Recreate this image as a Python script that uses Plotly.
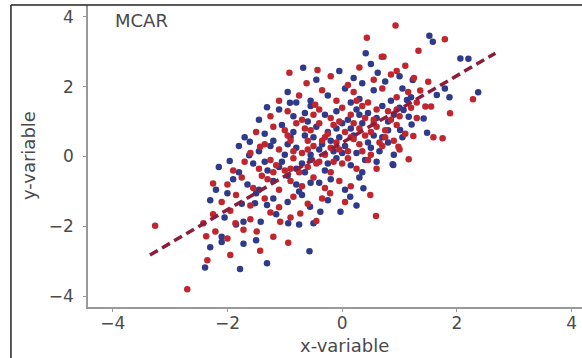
import plotly.graph_objects as go

# ---- data (x-variable, y-variable) ----
red_xy = [
    (0.93, 3.75), (0.43, 3.4), (0.69, 2.86), (-0.92, 2.4), (-0.43, 2.48), (-0.47, 1.48),
    (-1.43, 0.28), (1.79, 3.36), (1.33, 3.03), (2.28, 1.64), (1.88, 1.24), (1.75, 0.52),
    (1.59, 0.55), (1.16, -0.08), (1.5, 2.14), (1.45, 1.43), (1.55, 1.43), (1.36, 1.89),
    (0.95, 2.45), (0.72, 2.86), (1.24, 0.59), (0.98, 0.28), (-2.25, -0.77), (-2.42, -1.91),
    (-2.21, -2.15), (-2.35, -2.97), (-1.95, -2.82), (-1.43, -2.7), (-0.94, -2.47), (-1.72, -2.1),
    (-1.49, -2.15), (-1.86, -1.91), (-1.08, -1.87), (-0.73, -1.63), (0.59, -1.7), (0.49, -1.1),
    (-0.21, -1.05), (-3.26, -1.98), (-2.37, -2.28), (-2.7, -3.8),
    (-0.62, 2.1), (-0.2, 2.3), (0.1, 2.05), (0.3, 2.55), (0.55, 2.2), (0.85, 2.35), (1.1, 2.6), (1.25, 2.25),
    (-1.1, 1.6), (-0.75, 1.75), (-0.35, 1.9), (-0.1, 1.6), (0.2, 1.85), (0.45, 1.55), (0.7, 1.95),
    (0.95, 1.7), (1.15, 1.85), (1.3, 1.55),
    (-1.25, 1.15), (-0.95, 1.3), (-0.7, 1.05), (-0.4, 1.35), (-0.2, 1.1), (0.0, 1.4), (0.15, 1.2),
    (0.35, 1.45), (0.55, 1.05), (0.8, 1.3), (1.0, 1.15), (1.2, 1.4), (0.6, 1.35), (-0.05, 1.0),
    (-1.5, 0.7), (-1.2, 0.85), (-0.95, 0.6), (-0.8, 0.95), (-0.55, 0.75), (-0.3, 0.55), (-0.15, 0.9),
    (0.05, 0.7), (0.2, 0.95), (0.4, 0.6), (0.6, 0.85), (0.75, 0.55), (0.95, 0.9), (1.1, 0.65),
    (0.3, 0.8), (-0.4, 0.95), (0.5, 0.7),
    (-1.6, 0.1), (-1.35, 0.35), (-1.1, 0.2), (-0.9, 0.45), (-0.7, 0.1), (-0.5, 0.3), (-0.3, 0.05),
    (-0.1, 0.4), (0.1, 0.15), (0.3, 0.35), (0.5, 0.05), (0.7, 0.3), (0.9, 0.45), (-0.6, 0.45),
    (0.2, 0.5), (-0.2, 0.25),
    (-1.9, -0.4), (-1.7, -0.15), (-1.45, -0.35), (-1.25, -0.1), (-1.0, -0.4), (-0.85, -0.05),
    (-0.6, -0.3), (-0.4, -0.15), (-0.2, -0.45), (0.0, -0.2), (0.25, -0.35), (0.45, -0.1),
    (-1.15, -0.25), (-0.75, -0.45),
    (-2.0, -0.8), (-1.75, -0.6), (-1.55, -0.9), (-1.3, -0.65), (-1.1, -0.95), (-0.9, -0.7),
    (-0.7, -0.85), (-0.5, -0.6), (-0.3, -0.9), (-0.05, -0.7), (0.15, -0.85), (-1.4, -0.55),
    (-2.1, -1.3), (-1.85, -1.1), (-1.6, -1.4), (-1.35, -1.2), (-1.1, -1.45), (-0.85, -1.15),
    (-0.6, -1.35), (-0.35, -1.2), (0.05, -1.3),
    (-2.25, -1.65), (-1.95, -1.55), (-1.6, -1.8), (-1.25, -1.6), (-0.9, -1.75), (-0.45, -1.85),
    (-2.0, -2.35), (-1.2, -2.3),
    (-0.85, 0.15), (-0.65, 0.8), (-0.45, -0.2), (-0.25, 0.65), (-0.05, 0.2), (0.15, 0.55),
    (0.35, 0.15), (0.55, 0.95), (0.75, 0.75), (0.95, 1.35), (0.4, 1.1), (0.1, -0.05),
    (-0.35, 0.45), (-0.6, 0.2), (-0.9, -0.35), (-1.2, -0.45), (-0.15, -0.15), (0.65, 0.4),
    (0.85, 1.05), (0.25, 1.6), (-0.5, 1.2), (-1.0, 0.75), (1.3, 1.1), (1.0, 0.2), (0.6, -0.35),
]

blue_xy = [
    (0.41, 2.96), (-0.68, 2.54), (-1.31, 1.41), (-0.91, 1.54), (-1.61, 0.42), (-1.62, 0.04),
    (-1.96, -0.13), (0.89, -0.24), (1.52, 3.46), (1.58, 3.29), (2.06, 2.81), (2.2, 2.8),
    (2.37, 1.84), (1.87, 1.7), (1.48, 0.68), (1.42, 1.09), (1.21, 0.92), (0.88, -0.22),
    (1.23, 2.19), (1.79, 1.95), (1.65, 1.76), (1.13, 1.62), (1.07, 1.33), (1.16, 1.14),
    (1.01, 0.76), (-2.39, -3.18), (-1.78, -3.22), (-1.31, -3.06), (-0.57, -2.71), (-2.1, -2.3),
    (-2.1, -2.45), (-1.72, -2.5), (-1.72, -1.87), (-1.42, -1.87), (-1.52, -1.34), (-1.31, -1.39),
    (-0.94, -1.91), (-0.5, -1.91), (-0.56, -1.44), (-0.38, -1.58), (-0.03, -1.58), (0.37, -0.91),
    (0.14, -1.15),
    (-0.45, 2.2), (-0.05, 2.45), (0.2, 2.25), (0.5, 2.65), (0.62, 2.4), (0.75, 2.15), (1.0, 2.3), (0.35, 2.1),
    (-0.95, 1.85), (-0.55, 1.6), (-0.25, 1.75), (0.05, 1.95), (0.3, 1.65), (0.55, 1.9), (0.85, 1.6),
    (1.05, 1.95), (-0.8, 1.55),
    (-1.45, 1.05), (-1.1, 1.35), (-0.85, 1.15), (-0.55, 1.45), (-0.3, 1.2), (-0.1, 1.3), (0.1, 1.05),
    (0.25, 1.35), (0.45, 1.25), (0.7, 1.45), (0.9, 1.2), (-0.6, 1.0),
    (-1.7, 0.55), (-1.35, 0.65), (-1.05, 0.9), (-0.85, 0.7), (-0.65, 0.6), (-0.45, 0.85), (-0.25, 0.7),
    (-0.05, 0.55), (0.15, 0.8), (0.35, 0.95), (0.55, 0.6), (0.8, 0.75), (1.05, 0.55), (0.0, 0.95),
    (-1.8, 0.3), (-1.45, 0.15), (-1.2, 0.45), (-1.0, 0.05), (-0.8, 0.25), (-0.55, 0.05), (-0.35, 0.35),
    (-0.15, 0.15), (0.05, 0.3), (0.25, 0.1), (0.45, 0.4), (0.65, 0.15), (0.8, 0.4), (-0.95, 0.35),
    (-2.15, -0.3), (-1.8, -0.45), (-1.55, -0.2), (-1.3, -0.4), (-1.05, -0.15), (-0.8, -0.35),
    (-0.55, -0.1), (-0.3, -0.4), (-0.1, -0.05), (0.15, -0.25), (0.35, -0.45), (0.6, -0.15), (-0.65, -0.45),
    (-2.2, -0.95), (-1.9, -0.65), (-1.65, -0.8), (-1.45, -0.95), (-1.2, -0.7), (-0.95, -0.55),
    (-0.75, -1.0), (-0.55, -0.75), (-0.2, -0.65), (0.05, -0.95), (0.3, -0.6),
    (-2.3, -1.25), (-2.0, -1.05), (-1.75, -1.35), (-1.5, -1.05), (-1.2, -1.2), (-0.95, -1.3),
    (-0.7, -1.1), (-0.25, -1.25), (0.25, -1.4),
    (-2.05, -1.75), (-1.85, -1.95), (-1.15, -1.65), (-0.75, -1.95),
    (-1.5, -2.4), (-2.3, -2.6),
    (-0.9, 0.55), (-0.7, -0.2), (-0.5, 0.55), (-0.2, 0.45), (0.0, 0.1), (0.2, 0.6),
    (0.4, -0.1), (0.6, 1.1), (0.8, 1.0), (1.0, 1.4), (0.3, 1.2), (-0.1, 0.8),
    (-0.4, 0.2), (-0.65, 1.25), (-1.1, -0.3), (-1.35, -0.15), (0.5, 0.25), (0.7, 0.55),
    (-0.25, -0.2), (0.15, 1.55), (-1.25, 0.3), (0.9, 0.05), (1.2, 1.7), (-0.8, -0.8), (-0.4, -0.75),
]

fit_x = [-3.35, 2.67]
fit_y = [-2.82, 2.96]

x_ticks = [-4, -2, 0, 2, 4]
y_ticks = [-4, -2, 0, 2, 4]

RED = "#c0262d"
BLUE = "#2f3a8a"
LINE = "#8b1c3c"
TXT = "#4a4a4a"
AX = "#999999"
FAM = "DejaVu Sans, Liberation Sans, Arial, sans-serif"

fig = go.Figure()
fig.add_trace(go.Scatter(
    x=[p[0] for p in blue_xy], y=[p[1] for p in blue_xy], mode="markers",
    marker=dict(color=BLUE, size=6.5, line=dict(width=0)), showlegend=False))
fig.add_trace(go.Scatter(
    x=[p[0] for p in red_xy], y=[p[1] for p in red_xy], mode="markers",
    marker=dict(color=RED, size=6.5, line=dict(width=0)), showlegend=False))
fig.add_trace(go.Scatter(
    x=fit_x, y=fit_y, mode="lines",
    line=dict(color=LINE, width=3.5, dash="9px,5px"), showlegend=False))

tickfont = dict(family=FAM, size=17, color=TXT)
titlefont = dict(family=FAM, size=18, color=TXT)

fig.update_layout(
    width=582, height=358,
    margin=dict(l=88, r=0, t=5, b=51, autoexpand=False),
    paper_bgcolor="white", plot_bgcolor="white",
    font=tickfont,
    xaxis=dict(range=[-4.43, 4.18], tickvals=x_ticks,
               ticktext=[str(v).replace("-", "\u2212") for v in x_ticks],
               showgrid=False, zeroline=False, showline=True, linecolor=AX, linewidth=1.5,
               ticks="outside", ticklen=3, tickcolor=AX, tickfont=tickfont,
               ticklabelstandoff=-3, automargin=False),
    yaxis=dict(range=[-4.31, 4.34], tickvals=y_ticks,
               ticktext=[str(v).replace("-", "\u2212") for v in y_ticks],
               showgrid=False, zeroline=False, showline=True, linecolor=AX, linewidth=1.5,
               ticks="outside", ticklen=3, tickcolor=AX, tickfont=tickfont,
               ticklabelstandoff=6, automargin=False),
    annotations=[
        dict(text="MCAR", x=0.051, y=0.95, xref="paper", yref="paper",
             xanchor="left", yanchor="middle", showarrow=False,
             font=dict(family=FAM, size=18, color=TXT)),
        dict(text="x-variable", x=0.52, y=-0.126, xref="paper", yref="paper",
             xanchor="center", yanchor="middle", showarrow=False, font=titlefont),
        dict(text="y-variable", x=-0.1215, y=0.503, xref="paper", yref="paper",
             xanchor="center", yanchor="middle", showarrow=False, textangle=-90,
             font=titlefont),
    ],
    shapes=[
        dict(type="line", xref="paper", yref="paper", x0=-0.156, x1=1.0, y0=1.0, y1=1.0,
             line=dict(color="#222222", width=1.5)),
        dict(type="line", xref="paper", yref="paper", x0=-0.156, x1=-0.156, y0=-0.17, y1=1.0,
             line=dict(color="#222222", width=1.5)),
    ],
)

fig.write_html("out.html", config={"displayModeBar": False},
               post_script="document.body.style.margin='0';")
